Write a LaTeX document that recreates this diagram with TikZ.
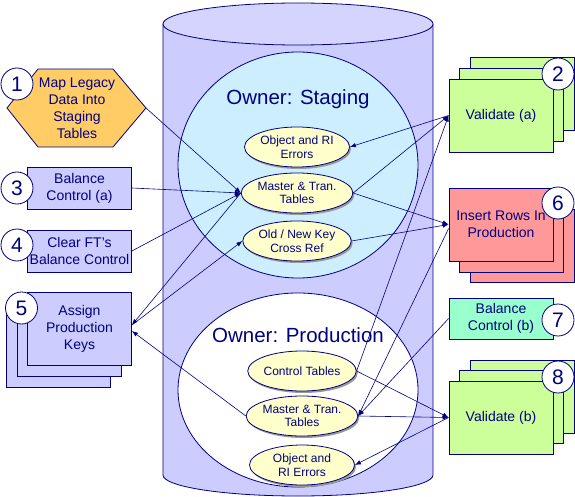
\documentclass[tikz,border=0pt]{standalone}
\usepackage{fontspec}
\setmainfont{Liberation Sans}
\usetikzlibrary{shapes.geometric,arrows.meta,shadows}
\definecolor{dblue}{RGB}{0,0,128}
\definecolor{cylfill}{RGB}{204,204,255}
\definecolor{cyltop}{RGB}{212,212,255}
\definecolor{stagefill}{RGB}{204,238,255}
\definecolor{tabfill}{RGB}{255,255,204}
\definecolor{lav}{RGB}{204,204,255}
\definecolor{greenf}{RGB}{204,255,153}
\definecolor{redf}{RGB}{255,153,153}
\definecolor{aquaf}{RGB}{153,255,204}
\definecolor{orangef}{RGB}{255,204,102}
\begin{document}
\begin{tikzpicture}[x=1pt,y=-1pt,
  box/.style={draw=dblue, line width=0.8pt, minimum width=104pt, minimum height=42pt, inner sep=1pt, align=center, font=\fontsize{14}{17}\selectfont, text=dblue},
  tab/.style={ellipse, draw=dblue, line width=0.8pt, fill=tabfill, minimum width=105pt, minimum height=40pt, inner sep=0pt, align=center, font=\fontsize{12}{13.5}\selectfont, text=dblue, drop shadow={shadow xshift=1.5pt, shadow yshift=-2pt, fill=black!40, opacity=1}},
  num/.style={circle, draw=dblue, line width=0.8pt, fill=white, minimum size=32pt, inner sep=0pt, font=\fontsize{21}{21}\selectfont, text=dblue},
  ttl/.style={font=\fontsize{20.5}{22}\selectfont, text=dblue, anchor=base, inner sep=0pt},
  conn/.style={draw=dblue, line width=0.6pt, -{Latex[length=6pt,width=4.5pt]}},
  outl/.style={draw=dblue, line width=0.8pt}
]
\useasboundingbox (0,0) rectangle (575,497);
% cylinder
\fill[cylfill] (163,24) rectangle (433,475);
\fill[cylfill] (298,475) ellipse [x radius=135pt, y radius=21pt];
\draw[outl] (163,24) -- (163,475) arc[start angle=180, end angle=360, x radius=135pt, y radius=21pt] -- (433,24);
\draw[outl, fill=cyltop] (298,24) ellipse [x radius=135pt, y radius=21pt];
% owner regions
\draw[outl, fill=stagefill] (298,165) ellipse [x radius=120pt, y radius=113pt];
\draw[outl, fill=white] (298,390) ellipse [x radius=120pt, y radius=97pt];
\node[ttl] (tstage) at (298,105) {Owner: Staging};
\node[ttl] (tprod) at (298,342) {Owner: Production};
% tables
\node[tab] (serr) at (297,147) {Object and RI\\Errors};
\node[tab] (smt) at (297,193) {Master \& Tran.\\Tables};
\node[tab] (skey) at (297,241) {Old / New Key\\Cross Ref};
\node[tab] (pctl) at (302,371) {Control Tables};
\node[tab] (pmt) at (302,416) {Master \& Tran.\\Tables};
\node[tab] (perr) at (302,465) {Object and\\RI Errors};
% left side
\draw[outl, fill=orangef] (7,108) -- (38,69) -- (113,69) -- (146,108) -- (113,147) -- (38,147) -- cycle;
\node[align=center, font=\fontsize{14}{17}\selectfont, text=dblue] (map) at (77,108) {Map Legacy\\Data Into\\Staging\\Tables};
\coordinate (mapr) at (146,108);
\node[num] (n1) at (17,84) {1};
\node[box, fill=lav] (bala) at (79.5,188) {Balance\\Control (a)};
\node[num] (n3) at (17,188) {3};
\node[box, fill=lav] (clr) at (79.5,251) {Clear FT's\\Balance Control};
\node[num] (n4) at (17,245) {4};
\node[box, fill=lav, minimum height=73pt] (ak3) at (58.5,351) {};
\node[box, fill=lav, minimum height=73pt] (ak2) at (69,340) {};
\node[box, fill=lav, minimum height=73pt] (ak) at (79.5,329) {Assign\\Production\\Keys};
\node[num] (n5) at (21.5,308) {5};
% right side
\node[box, fill=greenf, minimum height=73pt] (va3) at (522.5,93.5) {};
\node[box, fill=greenf, minimum height=73pt] (va2) at (511.5,104.5) {};
\node[box, fill=greenf, minimum height=73pt] (va) at (501,115.5) {Validate (a)};
\node[num] (n2) at (558,74) {2};
\node[box, fill=redf, minimum height=73pt] (ins3) at (522.5,246) {};
\node[box, fill=redf, minimum height=73pt] (ins2) at (511.5,235.5) {};
\node[box, fill=redf, minimum height=73pt] (ins) at (501,224.5) {Insert Rows In\\Production};
\node[num] (n6) at (558,203) {6};
\node[box, fill=aquaf, minimum height=41pt] (balb) at (501,318.5) {Balance\\Control (b)};
\node[num] (n7) at (558,320) {7};
\node[box, fill=greenf, minimum height=73pt] (vb3) at (522.5,396.5) {};
\node[box, fill=greenf, minimum height=73pt] (vb2) at (511.5,407) {};
\node[box, fill=greenf, minimum height=73pt] (vb) at (501,417.5) {Validate (b)};
\node[num] (n8) at (558,377) {8};
% connectors
\draw[conn] (mapr) -- (smt.west);
\draw[conn] (bala.east) -- (smt.west);
\draw[conn] (clr.east) -- (smt.west);
\draw[conn] (smt.west) -- ([yshift=4pt]ak.east);
\draw[conn] ([yshift=4pt]ak.east) -- (skey.west);
\draw[conn] (pmt.west) -- ([yshift=-2pt]ak.east);
\draw[conn] (va.west) -- (serr.east);
\draw[conn] (smt.east) -- (va.west);
\draw[conn] (smt.east) -- (ins.west);
\draw[conn] (skey.east) -- (ins.west);
\draw[conn] (pctl.east) -- (va.west);
\draw[conn] ([yshift=-4pt]ins.west) -- (pmt.east);
\draw[conn] (balb.west) -- (pmt.east);
\draw[conn] (pmt.east) -- (vb.west);
\draw[conn] (pctl.east) -- (vb.west);
\draw[conn] (vb.west) -- (perr.east);
\end{tikzpicture}
\end{document}
